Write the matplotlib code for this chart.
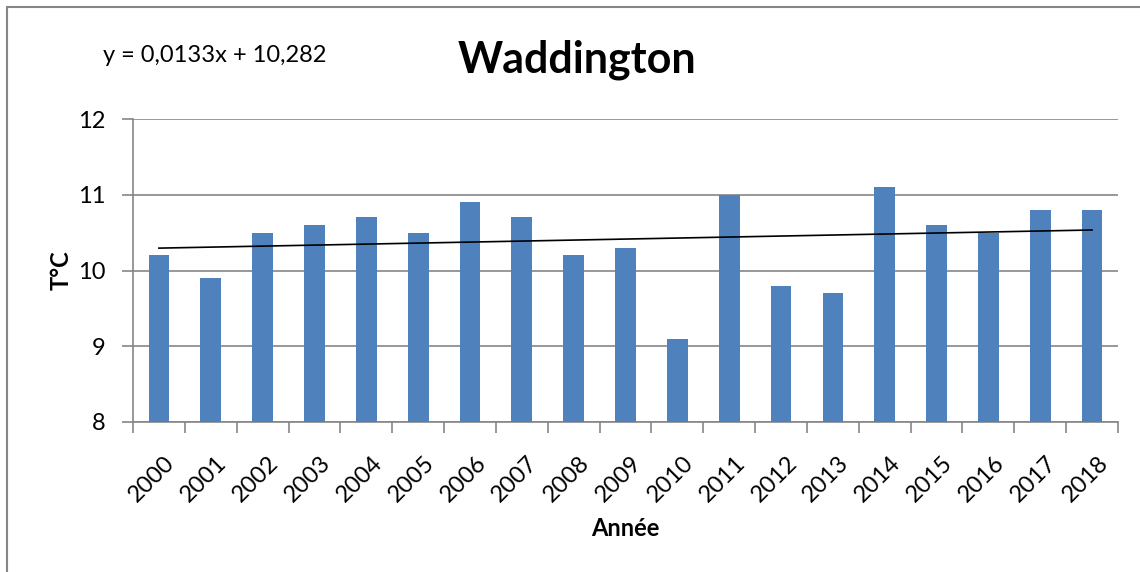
import matplotlib.pyplot as plt
import numpy as np
from matplotlib.patches import Rectangle

# Data
years = ["2000", "2001", "2002", "2003", "2004", "2005", "2006", "2007", "2008", "2009",
         "2010", "2011", "2012", "2013", "2014", "2015", "2016", "2017", "2018"]
temps = [10.2, 9.9, 10.5, 10.6, 10.7, 10.5, 10.9, 10.7, 10.2, 10.3,
         9.1, 11.0, 9.8, 9.7, 11.1, 10.6, 10.5, 10.8, 10.8]
slope = 0.0133
intercept = 10.282
y_ticks = [8, 9, 10, 11, 12]

plt.rcParams['font.family'] = ['Lato', 'DejaVu Sans']
grey = '#868686'

fig = plt.figure(figsize=(11.4, 5.72), dpi=100)
ax = fig.add_axes([133/1140, 1 - 422/572, (1118 - 133)/1140, (422 - 119)/572])

x = np.arange(len(years))
ax.bar(x, np.array(temps) - 8, bottom=8, width=0.4, color='#4F81BD', zorder=3)

# linear trend (Excel x = 1..n)
trend = slope * (x + 1) + intercept
ax.plot(x, trend, color='black', lw=1.2, zorder=4)

ax.set_xlim(-0.5, len(years) - 0.5)
ax.set_ylim(8, 12)
ax.set_yticks(y_ticks)
ax.set_yticklabels([str(v) for v in y_ticks], fontsize=17)
ax.set_xticks(x + 0.1)
ax.set_xticklabels(years, fontsize=17, rotation=45, ha='right', rotation_mode='anchor')
ax.set_xticks(np.arange(-0.5, len(years), 1), minor=True)
ax.tick_params(axis='x', which='major', length=0, pad=22)
ax.tick_params(axis='x', which='minor', length=8, color=grey, width=1.2)
ax.tick_params(axis='y', length=8, color=grey, width=1.2, pad=12)

ax.grid(axis='y', color=grey, lw=1.2, zorder=0)
for s in ['top', 'right']:
    ax.spines[s].set_visible(False)
for s in ['left', 'bottom']:
    ax.spines[s].set_color(grey)
    ax.spines[s].set_linewidth(1.2)

ax.set_xlabel("Année", fontsize=17, fontweight='bold', labelpad=8)
ax.set_ylabel("T°C", fontsize=17, fontweight='bold', labelpad=4)

fig.text(577/1140, 1 - 60/572, "Waddington", fontsize=31, fontweight='bold',
         ha='center', va='center')
fig.text(103/1140, 1 - 56/572, "y = 0,0133x + 10,282", fontsize=17,
         ha='left', va='center')

# outer chart frame (only left and top visible)
fig.add_artist(Rectangle((7/1140, -0.5), 2, 1.5 - 7/572, transform=fig.transFigure,
                         fill=False, edgecolor=grey, lw=1.5))

plt.savefig('out.png', dpi=100)
